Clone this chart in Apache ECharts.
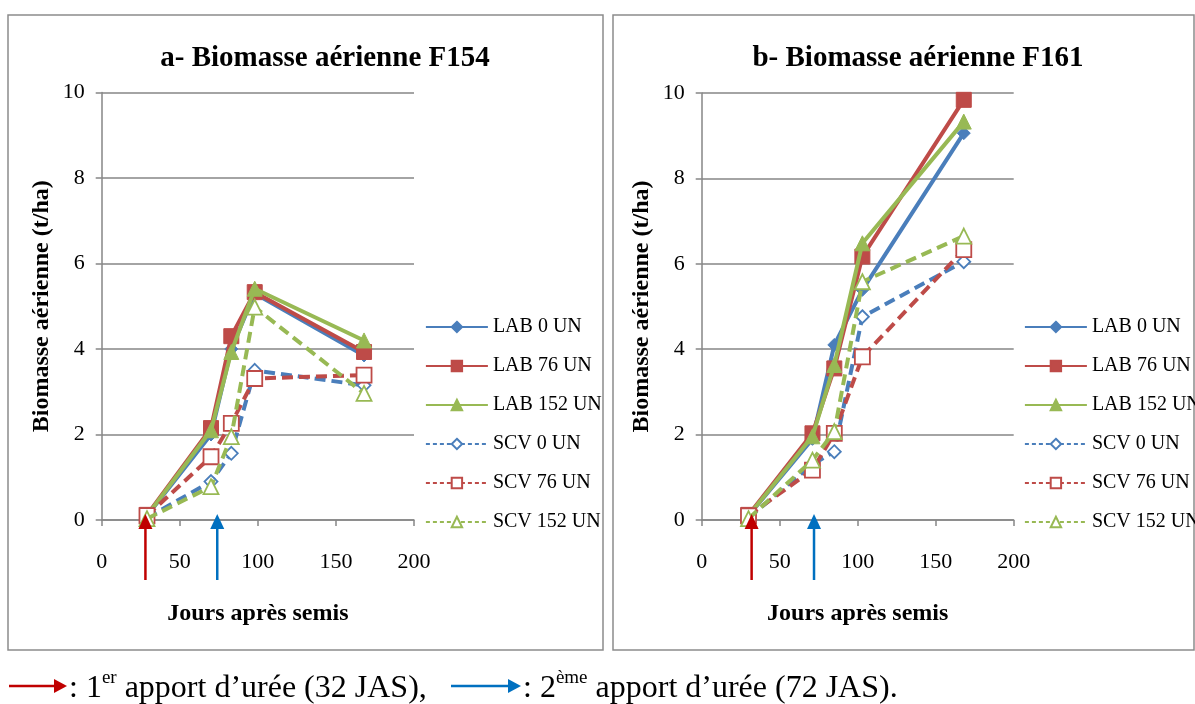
<!DOCTYPE html>
<html>
<head>
<meta charset="utf-8">
<script src="https://cdn.jsdelivr.net/npm/echarts@6/dist/echarts.min.js"></script>
<style>
html,body{margin:0;padding:0;background:#fff;}
#chart{width:1195px;height:704px;}
</style>
</head>
<body>
<div id="chart"></div>
<script>
// ---- data ----
const seriesNames = ['LAB 0 UN', 'LAB 76 UN', 'LAB 152 UN', 'SCV 0 UN', 'SCV 76 UN', 'SCV 152 UN'];
const xTicks = [0, 50, 100, 150, 200];
const yTicks = [0, 2, 4, 6, 8, 10];

// Panel a - F154
const daysA = [29, 70, 83, 98, 168];
const a_LAB0 = [0.10, 2.00, 4.00, 5.30, 3.85];
const a_LAB76 = [0.12, 2.15, 4.30, 5.33, 3.93];
const a_LAB152 = [0.10, 2.10, 3.93, 5.41, 4.20];
const a_SCV0 = [0.05, 0.90, 1.56, 3.50, 3.15];
const a_SCV76 = [0.10, 1.48, 2.26, 3.31, 3.39];
const a_SCV152 = [0.03, 0.78, 1.95, 4.98, 2.96];

// Panel b - F161
const daysB = [30, 71, 85, 103, 168];
const b_LAB0 = [0.10, 1.90, 4.10, 5.39, 9.06];
const b_LAB76 = [0.12, 2.03, 3.55, 6.17, 9.84];
const b_LAB152 = [0.10, 1.96, 3.63, 6.48, 9.33];
const b_SCV0 = [0.05, 1.30, 1.60, 4.76, 6.05];
const b_SCV76 = [0.10, 1.17, 2.03, 3.82, 6.33];
const b_SCV152 = [0.03, 1.40, 2.07, 5.58, 6.65];

// urea application arrows (days after sowing, as drawn)
const ureaA = [28, 74];
const ureaB = [32, 72];

const titles = ['a- Biomasse aérienne F154', 'b- Biomasse aérienne F161'];
const yName = 'Biomasse aérienne (t/ha)';
const xName = 'Jours après semis';

// ---- styles ----
const SERIF = '"Liberation Serif", "Times New Roman", serif';
const colors = ['#4A7EBB', '#BE4B48', '#98B954', '#4A7EBB', '#BE4B48', '#98B954'];
const symbols = ['diamond', 'rect', 'triangle', 'diamond', 'rect', 'triangle'];
const symSizes = [13, 15, 15, 13, 15, 15];
const axisGray = '#868686';

const chart = echarts.init(document.getElementById('chart'), null, {renderer: 'canvas'});

const grids = [
  {left: 101.7, top: 92.5, width: 312.3, height: 427.5},
  {left: 701.7, top: 93, width: 312, height: 427}
];

function makeAxes(i) {
  const x = {
    type: 'value', gridIndex: i, min: xTicks[0], max: xTicks[xTicks.length - 1], interval: 50,
    name: xName, nameLocation: 'middle', nameGap: 82,
    nameTextStyle: {fontFamily: SERIF, fontWeight: 'bold', fontSize: 24, color: '#000'},
    axisLine: {show: true, lineStyle: {color: axisGray, width: 1.5}},
    axisTick: {show: true, length: 6, lineStyle: {color: axisGray, width: 1.5}},
    axisLabel: {fontFamily: SERIF, fontSize: 22, color: '#000', margin: 31},
    splitLine: {show: false}
  };
  const y = {
    type: 'value', gridIndex: i, min: yTicks[0], max: yTicks[yTicks.length - 1], interval: 2,
    name: yName, nameLocation: 'middle', nameGap: 48,
    nameTextStyle: {fontFamily: SERIF, fontWeight: 'bold', fontSize: 24, color: '#000'},
    axisLine: {show: true, lineStyle: {color: axisGray, width: 1.5}},
    axisTick: {show: true, length: 6, lineStyle: {color: axisGray, width: 1.5}},
    axisLabel: {fontFamily: SERIF, fontSize: 22, color: '#000', margin: 17},
    splitLine: {show: true, lineStyle: {color: axisGray, width: 1.5}}
  };
  return [x, y];
}

const axesA = makeAxes(0), axesB = makeAxes(1);

function pair(days, vals) { return days.map((d, k) => [d, vals[k]]); }

function makeSeries(gridIdx, days, valsList) {
  return valsList.map((vals, k) => {
    const hollow = k >= 3;
    return {
      name: seriesNames[k], type: 'line',
      xAxisIndex: gridIdx, yAxisIndex: gridIdx,
      data: pair(days, vals),
      symbol: symbols[k], symbolSize: symSizes[k],
      showAllSymbol: true,
      lineStyle: {color: colors[k], width: 4, type: hollow ? [11, 6] : 'solid'},
      itemStyle: hollow ? {color: '#ffffff', borderColor: colors[k], borderWidth: 1.8}
                        : {color: colors[k], borderColor: colors[k], borderWidth: 1},
      z: 2 + k,
      animation: false
    };
  });
}

function legendData() {
  return seriesNames.map((n, k) => ({
    name: n,
    lineStyle: {width: 1.8, type: k >= 3 ? [4, 3] : 'solid', color: colors[k]}
  }));
}

function makeLegend(left) {
  return {
    orient: 'vertical', left: left, top: 312,
    itemWidth: 62, itemHeight: 13, itemGap: 19,
    selectedMode: false,
    textStyle: {fontFamily: SERIF, fontSize: 20, color: '#000'},
    data: legendData()
  };
}

const option = {
  backgroundColor: '#ffffff',
  animation: false,
  title: [
    {text: titles[0], left: 320, top: 39, textAlign: 'center',
     textStyle: {fontFamily: SERIF, fontWeight: 'bold', fontSize: 29, color: '#000'}},
    {text: titles[1], left: 913, top: 39, textAlign: 'center',
     textStyle: {fontFamily: SERIF, fontWeight: 'bold', fontSize: 29, color: '#000'}}
  ],
  grid: grids,
  xAxis: [axesA[0], axesB[0]],
  yAxis: [axesA[1], axesB[1]],
  legend: [makeLegend(420), makeLegend(1019)],
  series: [].concat(
    makeSeries(0, daysA, [a_LAB0, a_LAB76, a_LAB152, a_SCV0, a_SCV76, a_SCV152]),
    makeSeries(1, daysB, [b_LAB0, b_LAB76, b_LAB152, b_SCV0, b_SCV76, b_SCV152])
  )
};

chart.setOption(option);

// ---- decorations: panel frames, urea arrows, caption ----
const RED = '#C00000', BLUE = '#0070C0';
function vArrow(x, yBase, color) {
  const tip = yBase - 6, headH = 15, headW = 7;
  return [
    {type: 'line', shape: {x1: x, y1: yBase + 60, x2: x, y2: tip + headH - 1}, style: {stroke: color, lineWidth: 2.5}, z: 100},
    {type: 'polygon', shape: {points: [[x - headW, tip + headH], [x + headW, tip + headH], [x, tip]]}, style: {fill: color}, z: 100}
  ];
}
function hArrow(x1, x2, y, color) {
  return [
    {type: 'line', shape: {x1: x1, y1: y, x2: x2 - 12, y2: y}, style: {stroke: color, lineWidth: 2.5}, z: 100},
    {type: 'polygon', shape: {points: [[x2 - 13, y - 7], [x2 - 13, y + 7], [x2, y]]}, style: {fill: color}, z: 100}
  ];
}

const els = [
  {type: 'rect', shape: {x: 8, y: 15, width: 595, height: 635}, style: {fill: 'none', stroke: '#8c8c8c', lineWidth: 1.5}, z: -1},
  {type: 'rect', shape: {x: 613, y: 15, width: 581, height: 635}, style: {fill: 'none', stroke: '#8c8c8c', lineWidth: 1.5}, z: -1}
];
[[0, ureaA], [1, ureaB]].forEach(([g, days]) => {
  [RED, BLUE].forEach((c, k) => {
    const p = chart.convertToPixel({gridIndex: g}, [days[k], 0]);
    els.push(...vArrow(p[0], p[1], c));
  });
});
els.push(...hArrow(9, 67, 686, RED));
els.push(...hArrow(451, 521, 686, BLUE));
const capRich = {
  n: {fontFamily: SERIF, fontSize: 32, color: '#000', lineHeight: 38, verticalAlign: 'bottom'},
  s: {fontFamily: SERIF, fontSize: 19, color: '#000', lineHeight: 38, verticalAlign: 'top', padding: [2, 0, 0, 0]}
};
els.push({type: 'text', x: 69, y: 686, z: 100,
  style: {text: '{n|: 1}{s|er}{n| apport d’urée (32 JAS),}', rich: capRich, verticalAlign: 'middle'}});
els.push({type: 'text', x: 523, y: 686, z: 100,
  style: {text: '{n|: 2}{s|ème}{n| apport d’urée (72 JAS).}', rich: capRich, verticalAlign: 'middle'}});

chart.setOption({graphic: {elements: els}});
</script>
</body>
</html>
